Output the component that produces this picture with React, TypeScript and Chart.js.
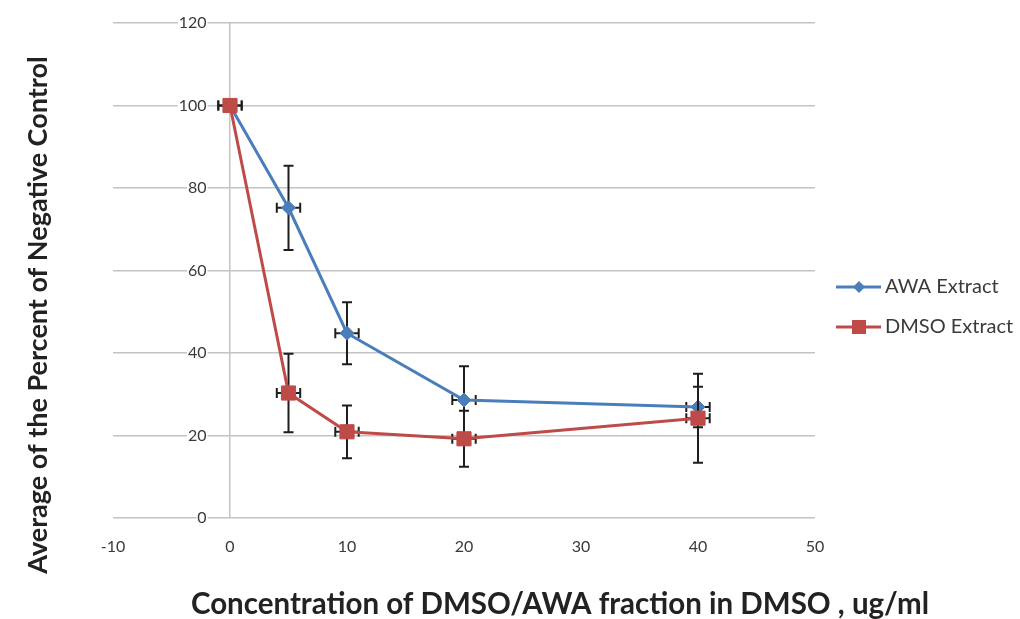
import React, { useEffect, useRef } from "react";
import { Chart, registerables } from "chart.js";

Chart.register(...registerables);

// ---- data ----
const xValues = [0, 5, 10, 20, 40];
const awaValues = [100, 75.2, 44.8, 28.6, 26.9];
const awaYErr = [0, 10.2, 7.5, 8.2, 4.9];
const awaXErr = [1, 1, 1, 1, 1];
const dmsoValues = [100, 30.3, 20.9, 19.2, 24.2];
const dmsoYErr = [0, 9.5, 6.4, 6.8, 10.8];
const dmsoXErr = [1, 1, 1, 1, 1];
const seriesNames = ["AWA Extract", "DMSO Extract"];
const xTicks = [-10, 0, 10, 20, 30, 40, 50];
const yTicks = [0, 20, 40, 60, 80, 100, 120];
const xTitle = "Concentration of DMSO/AWA fraction in DMSO , ug/ml";
const yTitle = "Average of the Percent of Negative Control";

// ---- styles ----
const BLUE = "#4A7EBB";
const RED = "#BE4B48";
const GRID = "#C4C4C4";
const TICK_COLOR = "#3A3A3A";
const TITLE_COLOR = "#222222";
const FONT = "Lato, 'Open Sans', sans-serif";

const errorBarPlugin = {
  id: "errorBars",
  beforeDatasetDraw(chart: any, args: any) {
    const ds: any = chart.data.datasets[args.index];
    const { ctx, scales } = chart;
    const xs = scales.x;
    const ys = scales.y;
    ctx.save();
    ctx.strokeStyle = "#1E1E1E";
    ctx.lineWidth = 2;
    const cap = 5;
    ds.data.forEach((p: any, j: number) => {
      const px = xs.getPixelForValue(p.x);
      const py = ys.getPixelForValue(p.y);
      const ye = ds.errY[j];
      const xe = ds.errX[j];
      ctx.beginPath();
      if (ye > 0) {
        const t = ys.getPixelForValue(p.y + ye);
        const b = ys.getPixelForValue(p.y - ye);
        ctx.moveTo(px, t);
        ctx.lineTo(px, b);
        ctx.moveTo(px - cap, t);
        ctx.lineTo(px + cap, t);
        ctx.moveTo(px - cap, b);
        ctx.lineTo(px + cap, b);
      }
      if (xe > 0) {
        const l = xs.getPixelForValue(p.x - xe);
        const r = xs.getPixelForValue(p.x + xe);
        ctx.moveTo(l, py);
        ctx.lineTo(r, py);
        ctx.moveTo(l, py - cap);
        ctx.lineTo(l, py + cap);
        ctx.moveTo(r, py - cap);
        ctx.lineTo(r, py + cap);
      }
      ctx.stroke();
    });
    ctx.restore();
  },
};

const decorPlugin = {
  id: "decor",
  afterDraw(chart: any) {
    const { ctx } = chart;
    ctx.save();
    ctx.fillStyle = TITLE_COLOR;
    ctx.textAlign = "center";
    ctx.textBaseline = "middle";
    // y title
    ctx.font = `bold 27px ${FONT}`;
    ctx.save();
    ctx.translate(38, 315);
    ctx.rotate(-Math.PI / 2);
    ctx.fillText(yTitle, 0, 0);
    ctx.restore();
    // x title
    ctx.font = `bold 29.5px ${FONT}`;
    ctx.fillText(xTitle, 560, 604);

    // legend
    const items = chart.data.datasets;
    items.forEach((ds: any, i: number) => {
      const y = 287 + i * 40;
      ctx.strokeStyle = ds.borderColor;
      ctx.lineWidth = 3;
      ctx.beginPath();
      ctx.moveTo(836, y);
      ctx.lineTo(881, y);
      ctx.stroke();
      ctx.fillStyle = ds.backgroundColor;
      ctx.beginPath();
      if (ds.pointStyle === "rectRot") {
        ctx.moveTo(859, y - 6);
        ctx.lineTo(865, y);
        ctx.lineTo(859, y + 6);
        ctx.lineTo(853, y);
        ctx.closePath();
      } else {
        ctx.rect(852, y - 7, 14, 14);
      }
      ctx.fill();
      ctx.fillStyle = TICK_COLOR;
      ctx.font = `20px ${FONT}`;
      ctx.textAlign = "left";
      ctx.fillText(ds.label, 885, y);
    });
    ctx.restore();
  },
};

export default function App() {
  const ref = useRef<HTMLCanvasElement>(null);
  useEffect(() => {
    const chart = new Chart(ref.current as HTMLCanvasElement, {
      type: "line",
      data: {
        datasets: [
          {
            label: seriesNames[0],
            data: xValues.map((x, i) => ({ x, y: awaValues[i] })),
            borderColor: BLUE,
            backgroundColor: BLUE,
            pointStyle: "rectRot",
            pointRadius: 7,
            pointBorderWidth: 1,
            borderWidth: 3,
            tension: 0,
            fill: false,
            order: 1,
            errY: awaYErr,
            errX: awaXErr,
          } as any,
          {
            label: seriesNames[1],
            data: xValues.map((x, i) => ({ x, y: dmsoValues[i] })),
            borderColor: RED,
            backgroundColor: RED,
            pointStyle: "rect",
            pointRadius: 10,
            pointBorderWidth: 1,
            borderWidth: 3,
            tension: 0,
            fill: false,
            order: 0,
            errY: dmsoYErr,
            errX: dmsoXErr,
          } as any,
        ],
      },
      options: {
        animation: false,
        responsive: false,
        layout: { padding: { left: 113, right: 205, top: 23, bottom: 41 } },
        plugins: { legend: { display: false }, tooltip: { enabled: false } },
        scales: {
          x: {
            type: "linear",
            min: -10,
            max: 50,
            position: "bottom",
            grid: {
              display: true,
              drawTicks: false,
              lineWidth: 1.5,
              color: (c: any) => (c.tick && c.tick.value === 0 ? GRID : "rgba(0,0,0,0)"),
            },
            border: { display: false },
            afterBuildTicks: (s: any) => {
              s.ticks = xTicks.map((v) => ({ value: v }));
            },
            afterFit: (s: any) => {
              s.height = 60;
            },
            ticks: {
              padding: 19,
              color: TICK_COLOR,
              font: { family: FONT, size: 16 },
              maxRotation: 0,
            },
          },
          y: {
            type: "linear",
            min: 0,
            max: 120,
            position: { x: -2.0 } as any,
            grid: { color: GRID, lineWidth: 1.5, drawTicks: false },
            border: { display: false },
            afterBuildTicks: (s: any) => {
              s.ticks = yTicks.map((v) => ({ value: v }));
            },
            ticks: {
              padding: 0,
              color: TICK_COLOR,
              font: { family: FONT, size: 16 },
              showLabelBackdrop: true,
              backdropColor: "#ffffff",
              backdropPadding: 1,
            },
          },
        },
      },
      plugins: [errorBarPlugin, decorPlugin],
    });
    return () => chart.destroy();
  }, []);
  return (
    <div style={{ position: "fixed", left: 0, top: 0, width: 1020, height: 619, background: "#ffffff" }}>
      <canvas ref={ref} width={1020} height={619} style={{ display: "block" }} />
    </div>
  );
}
